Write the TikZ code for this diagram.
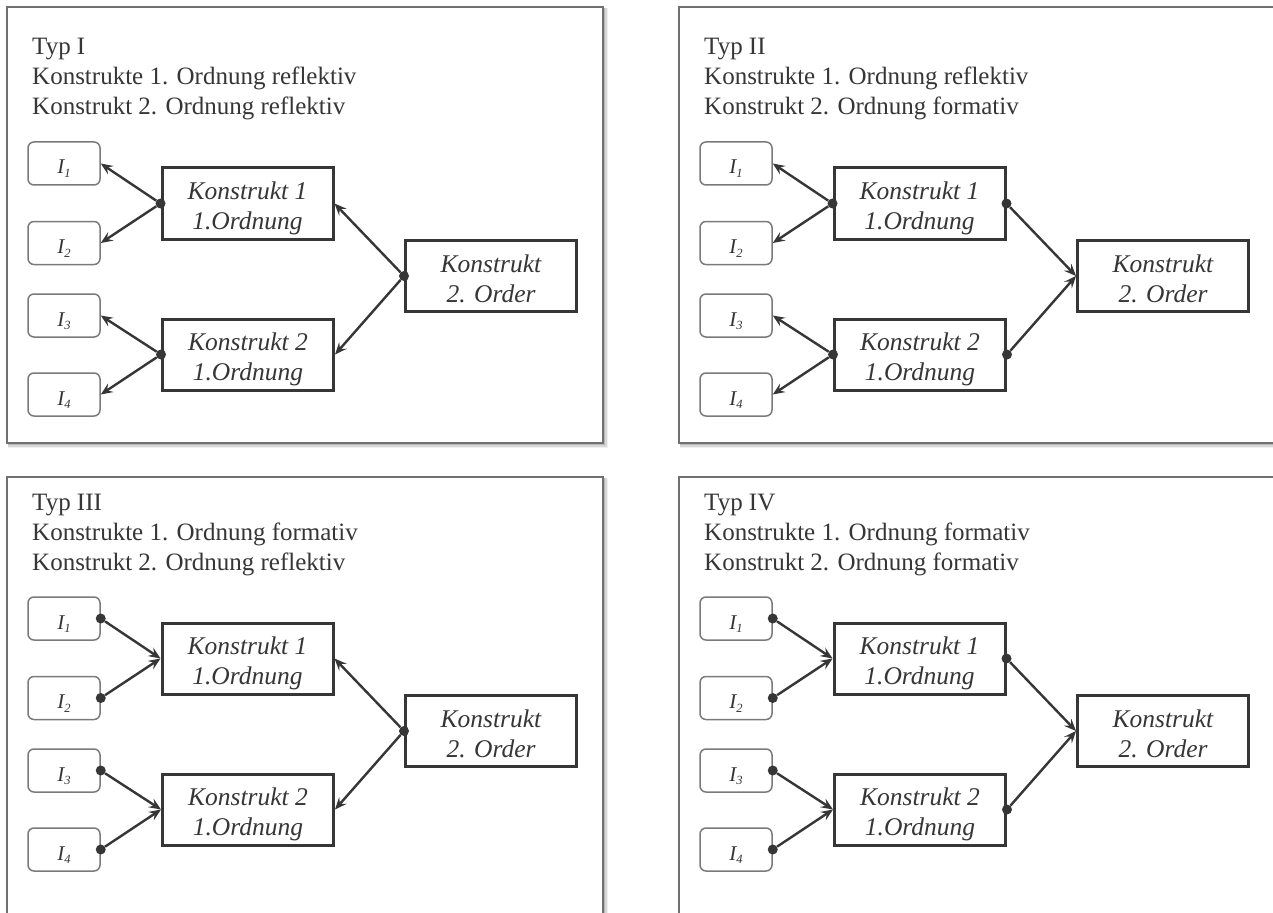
\documentclass[tikz,border=0pt]{standalone}
\usepackage{fontspec}
\setmainfont{Liberation Serif}
\usetikzlibrary{arrows.meta}

\definecolor{ink}{HTML}{363636}
\definecolor{frame}{HTML}{707070}
\definecolor{ibord}{HTML}{7A7A7A}

\tikzset{
  panel/.style={draw=frame, line width=2pt, fill=white},
  head/.style={anchor=base west, inner sep=0pt, text=ink, font=\fontsize{25}{30}\selectfont},
  kbox/.style={draw=ink, line width=3pt, minimum width=171pt, minimum height=71pt, inner sep=0pt},
  ktext/.style={anchor=base, inner sep=0pt, text=ink, font=\fontsize{25.5}{30}\selectfont\itshape},
  ibox/.style={draw=ibord, line width=1.5pt, rounded corners=6pt, minimum width=72pt, minimum height=43pt, inner sep=0pt},
  itext/.style={anchor=base, inner sep=0pt, text=ink, font=\fontsize{21}{22}\selectfont\itshape},
  link/.style={draw=ink, line width=2.4pt, -{Stealth[length=12pt,width=10pt,inset=4.5pt]}},
  dot/.style={circle, fill=ink, inner sep=0pt, minimum size=10pt},
}

% indicator box: name, y centre, index
\newcommand\indbox[3]{%
  \node[ibox] (#1) at (64,#2) {};
  \node[itext] (#1-t) at (64,#2+10.5) {I{\fontsize{12.5}{12}\selectfont\raisebox{-3.5pt}{#3}}};
}
% construct box: name, x, y, first line, second line
\newcommand\conbox[5]{%
  \node[kbox] (#1) at (#2,#3) {};
  \node[ktext] (#1-l1) at (#2,#3-4) {#4};
  \node[ktext] (#1-l2) at (#2,#3+26) {#5};
}
% panel frame with soft shadow: x1, y1, x2, y2
\newcommand\panelframe[4]{%
  \fill[black, opacity=.06] (#1+1,#2+1) rectangle (#3+5,#4+5);
  \fill[black, opacity=.10] (#1+1,#2+1) rectangle (#3+3.5,#4+3.5);
  \fill[black, opacity=.14] (#1+1,#2+1) rectangle (#3+2.2,#4+2.2);
  \draw[panel] (#1,#2) rectangle (#3,#4);
}
% panel contents: prefix, three header lines
\newcommand\panelbody[4]{%
  \node[head] (#1-h1) at (32,55) {#2};
  \node[head] (#1-h2) at (32,85) {#3};
  \node[head] (#1-h3) at (32,115) {#4};
  \indbox{#1-i1}{163.5}{1}
  \indbox{#1-i2}{243}{2}
  \indbox{#1-i3}{315.5}{3}
  \indbox{#1-i4}{394.5}{4}
  \conbox{#1-k1}{247.5}{203.5}{Konstrukt 1}{1.Ordnung}
  \conbox{#1-k2}{248}{354.5}{Konstrukt 2}{1.Ordnung}
  \conbox{#1-ko}{491}{276}{Konstrukt}{2. Order}
}

\begin{document}
\begin{tikzpicture}[x=1pt, y=-1pt]
  \useasboundingbox (0,0) rectangle (1273,912);
  \clip (0,0) rectangle (1273,912);
  \fill[white] (0,0) rectangle (1273,912);

  \panelframe{7}{7}{603}{443}
  \panelframe{679}{7}{1285}{443}
  \panelframe{7}{477}{603}{925}
  \panelframe{679}{477}{1285}{925}

  % Typ I: reflective / reflective
  \begin{scope}
    \panelbody{a}{Typ I}{Konstrukte 1. Ordnung reflektiv}{Konstrukt 2. Ordnung reflektiv}
  \end{scope}
  \node[dot] (a-d1) at (a-k1.west) {};
  \node[dot] (a-d2) at (a-k2.west) {};
  \node[dot] (a-d3) at (a-ko.west) {};
  \draw[link] (a-d1) -- (a-i1.east);
  \draw[link] (a-d1) -- (a-i2.east);
  \draw[link] (a-d2) -- (a-i3.east);
  \draw[link] (a-d2) -- (a-i4.east);
  \draw[link] (a-d3) -- (a-k1.east);
  \draw[link] (a-d3) -- (a-k2.east);

  % Typ II: reflective / formative
  \begin{scope}[shift={(672,0)}]
    \panelbody{b}{Typ II}{Konstrukte 1. Ordnung reflektiv}{Konstrukt 2. Ordnung formativ}
  \end{scope}
  \node[dot] (b-d1) at (b-k1.west) {};
  \node[dot] (b-d2) at (b-k2.west) {};
  \node[dot] (b-d3) at (b-k1.east) {};
  \node[dot] (b-d4) at (b-k2.east) {};
  \draw[link] (b-d1) -- (b-i1.east);
  \draw[link] (b-d1) -- (b-i2.east);
  \draw[link] (b-d2) -- (b-i3.east);
  \draw[link] (b-d2) -- (b-i4.east);
  \draw[link] (b-d3) -- (b-ko.west);
  \draw[link] (b-d4) -- (b-ko.west);

  % Typ III: formative / reflective
  \begin{scope}[shift={(0,455)}]
    \panelbody{c}{Typ III}{Konstrukte 1. Ordnung formativ}{Konstrukt 2. Ordnung reflektiv}
  \end{scope}
  \node[dot] (c-d1) at (c-i1.east) {};
  \node[dot] (c-d2) at (c-i2.east) {};
  \node[dot] (c-d3) at (c-i3.east) {};
  \node[dot] (c-d4) at (c-i4.east) {};
  \node[dot] (c-d5) at (c-ko.west) {};
  \draw[link] (c-d1) -- (c-k1.west);
  \draw[link] (c-d2) -- (c-k1.west);
  \draw[link] (c-d3) -- (c-k2.west);
  \draw[link] (c-d4) -- (c-k2.west);
  \draw[link] (c-d5) -- (c-k1.east);
  \draw[link] (c-d5) -- (c-k2.east);

  % Typ IV: formative / formative
  \begin{scope}[shift={(672,455)}]
    \panelbody{d}{Typ IV}{Konstrukte 1. Ordnung formativ}{Konstrukt 2. Ordnung formativ}
  \end{scope}
  \node[dot] (d-d1) at (d-i1.east) {};
  \node[dot] (d-d2) at (d-i2.east) {};
  \node[dot] (d-d3) at (d-i3.east) {};
  \node[dot] (d-d4) at (d-i4.east) {};
  \node[dot] (d-d5) at (d-k1.east) {};
  \node[dot] (d-d6) at (d-k2.east) {};
  \draw[link] (d-d1) -- (d-k1.west);
  \draw[link] (d-d2) -- (d-k1.west);
  \draw[link] (d-d3) -- (d-k2.west);
  \draw[link] (d-d4) -- (d-k2.west);
  \draw[link] (d-d5) -- (d-ko.west);
  \draw[link] (d-d6) -- (d-ko.west);
\end{tikzpicture}
\end{document}
